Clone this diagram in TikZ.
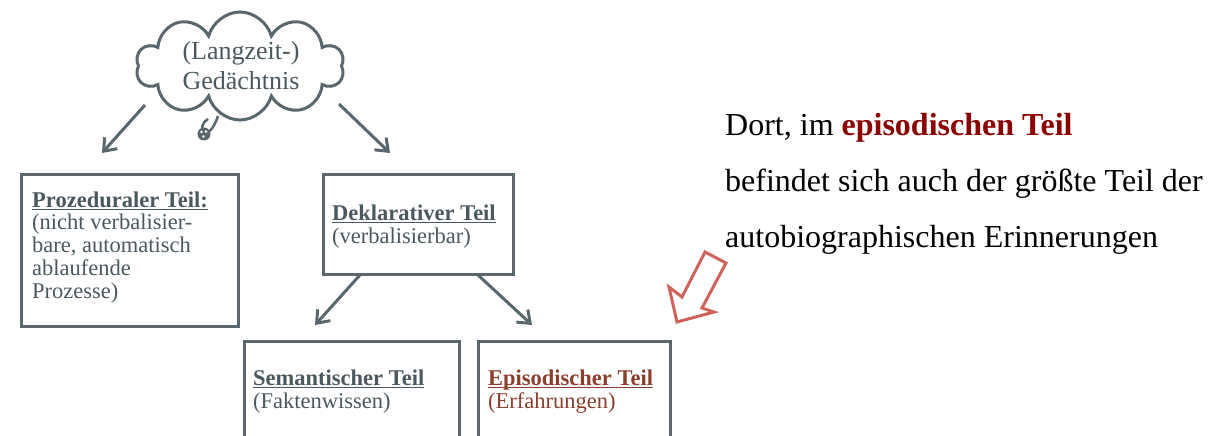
\documentclass[tikz,border=0pt]{standalone}
\usepackage{fontspec}
\setmainfont{Liberation Serif}
\usetikzlibrary{shapes.symbols,arrows.meta}
\definecolor{linecol}{RGB}{88,104,110}
\definecolor{textcol}{RGB}{74,88,96}
\definecolor{epicol}{RGB}{140,62,45}
\definecolor{redarrow}{RGB}{208,98,92}
\definecolor{darkred}{RGB}{139,0,0}
\newcommand\myul[1]{\setbox0\hbox{#1}\rlap{\rule[-3pt]{\wd0}{1.4pt}}\box0}
\begin{document}
\begin{tikzpicture}[x=1pt,y=-1pt,
  box/.style={draw=linecol,line width=3pt,rectangle,inner sep=0pt,anchor=north west},
  boxtext/.style={anchor=base west,align=left,inner sep=0pt,text=textcol,font=\fontsize{22.5}{22.7}\selectfont},
  conn/.style={draw=linecol,line width=3pt,-{Straight Barb[length=11pt,width=17pt]}}]
\useasboundingbox (0,0) rectangle (1211,436);
\clip (0,0) rectangle (1211,436);
% cloud
\node[cloud,draw=linecol,line width=3pt,cloud puffs=10,aspect=1.9,minimum width=208pt,minimum height=108pt,inner sep=0pt] (cloud) at (240,66) {};
\node[align=center,anchor=base,inner sep=0pt,text=textcol,font=\fontsize{26}{29}\selectfont] (cloudt) at (241,89) {(Langzeit-)\\Gedächtnis};
\draw[linecol,line width=2.5pt] (208,119) .. controls (194,128) and (208,146) .. (218,116);
\node[circle,fill=linecol,minimum size=13pt,inner sep=0pt] (bubble) at (204,134) {};
\fill[white] (201.5,132) circle (1.4) (206,131.5) circle (1.4) (203.5,136.5) circle (1.4);
% boxes
\node[box,minimum width=217pt,minimum height=152pt] (proz) at (20,173) {};
\node[box,minimum width=190pt,minimum height=100pt] (dekl) at (322,173) {};
\node[box,minimum width=215pt,minimum height=102pt] (sem) at (243,340) {};
\node[box,minimum width=192pt,minimum height=102pt] (epi) at (477,340) {};
% box texts (base anchor = baseline of the last line)
\node[boxtext] (prozt) at (32,298) {\myul{\textbf{Prozeduraler Teil:}}\\(nicht verbalisier-\\bare, automatisch\\ablaufende\\Prozesse)};
\node[boxtext] (deklt) at (332,243) {\myul{\textbf{Deklarativer Teil}}\\(verbalisierbar)};
\node[boxtext] (semt) at (253,408) {\myul{\textbf{Semantischer Teil}}\\(Faktenwissen)};
\node[boxtext,text=epicol] (epit) at (488,408) {\myul{\textbf{Episodischer Teil}}\\(Erfahrungen)};
% connectors
\coordinate (a1s) at (145,105); \coordinate (a1e) at (102,153);
\coordinate (a2s) at (339,104); \coordinate (a2e) at (390,153);
\coordinate (a3s) at (360,275); \coordinate (a3e) at (315,325);
\coordinate (a4s) at (478,275); \coordinate (a4e) at (532,325);
\draw[conn] (a1s) -- (a1e);
\draw[conn] (a2s) -- (a2e);
\draw[conn] (a3s) -- (a3e);
\draw[conn] (a4s) -- (a4e);
% red hollow arrow
\draw[redarrow,line width=3pt,line join=miter] (705,252) -- (726,263) -- (702,308) -- (714,312) -- (677,322) -- (669,287) -- (682,297) -- cycle;
% right text
\node[anchor=base west,align=left,inner sep=0pt,font=\fontsize{32}{56}\selectfont] (note) at (725,247) {Dort, im \textcolor{darkred}{\textbf{episodischen Teil}}\\befindet sich auch der größte Teil der\\autobiographischen Erinnerungen};
\end{tikzpicture}
\end{document}
